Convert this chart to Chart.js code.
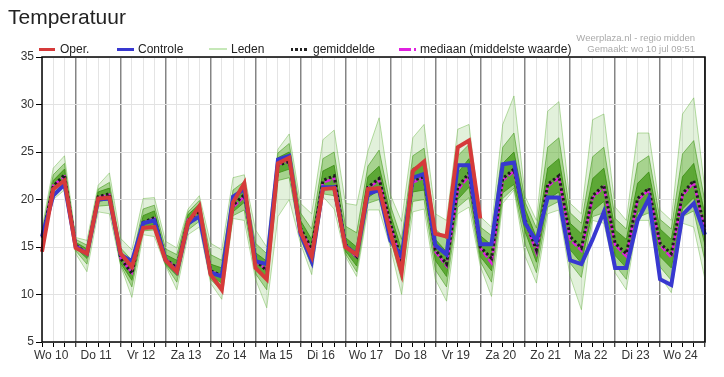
<!DOCTYPE html>
<html>
<head>
<meta charset="utf-8">
<script src="https://cdn.jsdelivr.net/npm/chart.js@4.4.1/dist/chart.umd.min.js"></script>
<style>
  body { margin: 0; background: #fff; font-family: 'Liberation Sans', Arial, sans-serif; }
  #wrap { position: relative; width: 724px; height: 377px; }
  #wrap canvas { position: absolute; left: 0; top: 0; }
  .title { position: absolute; left: 8px; top: 6px; font-size: 21px; line-height: 21px; color: #222; }
  .lg { position: absolute; top: 43px; font-size: 12px; line-height: 12px; color: #222; white-space: nowrap; }
  .sw { position: absolute; }
  .wm { position: absolute; right: 29px; top: 33px; font-size: 9.5px; line-height: 10.6px; color: #aaa; text-align: right; }
</style>
</head>
<body>
<div id="wrap">
  <canvas id="myChart" width="724" height="377"></canvas>
  <div class="title">Temperatuur</div>
  <span class="sw" style="left:39px;top:47.5px;width:16px;height:3px;background:#d63a3a"></span>
  <span class="lg" style="left:60px">Oper.</span>
  <span class="sw" style="left:117px;top:47.5px;width:17px;height:3px;background:#3838d0"></span>
  <span class="lg" style="left:138px">Controle</span>
  <span class="sw" style="left:209px;top:48px;width:18px;height:2px;background:#c6e8b8"></span>
  <span class="lg" style="left:231px">Leden</span>
  <span class="sw" style="left:291px;top:48px;width:16px;height:3px;background:repeating-linear-gradient(90deg,#222 0 2.5px,transparent 2.5px 4.5px)"></span>
  <span class="lg" style="left:313px">gemiddelde</span>
  <span class="sw" style="left:399px;top:48px;width:12px;height:3px;background:#e020e0"></span>
  <span class="sw" style="left:414px;top:48px;width:2px;height:3px;background:#e020e0"></span>
  <span class="lg" style="left:420px">mediaan (middelste waarde)</span>
  <div class="wm">Weerplaza.nl - regio midden<br>Gemaakt: wo 10 jul 09:51</div>
</div>
<script>
(() => {
  'use strict'

  // dagen op de x-as, label staat op 12:00
  const dayLabels = ['Wo 10', 'Do 11', 'Vr 12', 'Za 13', 'Zo 14', 'Ma 15', 'Di 16', 'Wo 17',
    'Do 18', 'Vr 19', 'Za 20', 'Zo 21', 'Ma 22', 'Di 23', 'Wo 24']

  // 6-uurlijkse waarden, eerste punt wo 10 06:00
  const oper = [14.5, 21.1, 22.0, 14.9, 14.3, 20.1, 20.2, 14.3, 12.9, 17.0,
    17.1, 13.6, 12.4, 17.6, 19.3, 12.1, 10.5, 19.7, 21.7, 12.8,
    11.6, 23.8, 24.4, 16.6, 14.0, 21.1, 21.2, 15.0, 14.2, 21.1,
    21.2, 16.5, 12.3, 23.0, 24.0, 16.4, 16.1, 25.5, 26.2, 18.0]

  const controle = [16.1, 20.4, 21.6, 15.0, 14.3, 20.0, 20.1, 14.2, 13.5, 17.5,
    17.8, 13.6, 12.4, 17.5, 18.2, 12.3, 11.9, 20.3, 21.1, 13.5,
    13.2, 24.2, 24.6, 16.4, 13.5, 21.3, 21.3, 15.1, 14.2, 20.6,
    21.0, 15.7, 14.0, 22.3, 22.7, 15.2, 14.2, 23.6, 23.6, 15.3,
    15.3, 23.7, 23.9, 17.5, 15.6, 20.2, 20.2, 13.6, 13.2, 15.8,
    18.7, 12.8, 12.8, 17.8, 20.1, 11.6, 11.0, 18.4, 19.6, 16.3]

  const gemiddelde = [16.0, 21.4, 22.6, 15.2, 14.3, 20.3, 20.6, 13.8, 12.2, 17.6,
    18.1, 13.7, 12.8, 17.8, 18.8, 12.5, 12.0, 19.4, 20.5, 13.6,
    12.5, 23.6, 24.0, 17.0, 14.8, 22.0, 22.5, 15.3, 14.0, 21.3,
    22.2, 17.5, 13.6, 22.0, 22.4, 14.7, 13.2, 21.3, 22.8, 15.0,
    13.8, 22.2, 23.2, 17.8, 14.7, 21.6, 22.5, 16.1, 14.9, 20.4,
    21.5, 15.4, 14.3, 20.1, 21.2, 15.4, 14.3, 20.6, 22.0, 16.8]

  const mediaan = [16.0, 21.5, 22.4, 15.2, 14.4, 20.2, 20.5, 13.8, 12.3, 17.5,
    18.0, 13.7, 12.9, 17.9, 18.7, 12.4, 12.1, 19.2, 20.3, 13.5,
    12.6, 23.7, 24.0, 16.9, 14.6, 21.8, 22.2, 15.2, 13.9, 21.2,
    22.0, 17.3, 13.3, 21.8, 22.3, 14.5, 13.0, 21.0, 22.5, 14.9,
    13.3, 22.0, 23.0, 17.7, 14.4, 21.4, 22.3, 15.8, 14.6, 20.2,
    21.3, 15.2, 14.0, 19.9, 21.0, 15.2, 13.9, 20.4, 21.8, 16.6]

  // spreiding van de leden (laagste, 10%, 25%, 75%, 90%, hoogste)
  const ledenMin = [15.3, 20.0, 21.0, 14.3, 12.4, 18.7, 18.5, 13.0, 9.7, 16.3,
    16.1, 13.0, 10.5, 16.3, 17.1, 11.2, 9.5, 18.0, 17.8, 11.6,
    8.6, 18.2, 20.0, 15.4, 12.1, 20.3, 19.0, 14.0, 11.9, 18.9,
    18.9, 15.0, 10.0, 18.7, 19.0, 11.6, 9.3, 18.5, 19.2, 13.0,
    9.8, 19.6, 21.0, 14.0, 11.2, 18.5, 18.9, 11.9, 8.4, 17.8,
    17.5, 12.3, 10.5, 17.8, 17.8, 11.9, 10.2, 17.5, 17.1, 11.6]

  const leden10 = [15.5, 20.5, 21.5, 14.6, 13.2, 19.3, 19.4, 13.1, 10.8, 16.7,
    16.8, 13.1, 11.3, 16.8, 17.7, 11.6, 10.4, 18.3, 18.9, 12.2,
    10.5, 22.0, 22.3, 15.9, 13.0, 20.6, 20.4, 14.3, 12.4, 19.6,
    20.0, 15.9, 11.5, 19.8, 20.0, 12.6, 10.8, 19.2, 20.2, 13.5,
    11.3, 20.1, 21.2, 15.3, 12.3, 19.2, 19.8, 13.3, 11.8, 18.2,
    18.6, 13.1, 11.6, 18.1, 18.6, 12.9, 11.5, 18.2, 18.8, 13.5]

  const leden25 = [15.7, 21.0, 22.0, 14.9, 13.8, 19.8, 20.0, 13.3, 11.5, 17.0,
    17.4, 13.2, 12.0, 17.2, 18.2, 12.0, 11.2, 18.7, 19.7, 12.8,
    11.5, 22.8, 23.2, 16.3, 13.8, 21.0, 21.4, 14.6, 13.0, 20.2,
    21.0, 16.6, 12.5, 20.8, 21.0, 13.6, 11.9, 20.0, 21.3, 14.0,
    12.5, 20.7, 21.6, 16.6, 13.4, 20.0, 20.8, 14.7, 13.3, 18.8,
    19.8, 14.1, 12.8, 18.6, 19.6, 14.0, 12.8, 19.0, 20.2, 15.2]

  const leden75 = [16.3, 22.0, 23.2, 15.5, 14.8, 20.8, 21.2, 14.3, 12.9, 18.3,
    18.8, 14.2, 13.6, 18.4, 19.5, 13.2, 12.8, 20.1, 21.3, 14.4,
    13.5, 24.4, 25.0, 17.8, 15.8, 23.0, 23.6, 16.0, 15.0, 22.4,
    23.5, 18.5, 14.7, 23.3, 23.8, 15.8, 14.5, 22.8, 24.3, 16.2,
    15.2, 23.8, 25.0, 19.0, 16.0, 23.3, 24.3, 17.5, 16.4, 22.2,
    23.3, 16.8, 15.8, 21.7, 22.9, 16.9, 15.8, 22.4, 23.8, 18.4]

  const leden90 = [16.6, 22.6, 23.8, 15.8, 15.2, 21.1, 21.8, 14.9, 13.6, 19.0,
    19.4, 14.8, 14.2, 18.7, 19.9, 14.2, 13.6, 21.0, 21.9, 15.4,
    14.3, 24.9, 25.9, 18.6, 16.9, 24.3, 25.0, 17.2, 16.5, 23.5,
    25.2, 19.4, 15.8, 24.6, 25.4, 16.9, 15.8, 24.6, 25.8, 17.1,
    16.2, 25.5, 27.0, 19.7, 17.0, 25.5, 26.5, 18.6, 17.5, 24.5,
    25.5, 18.0, 16.9, 23.8, 24.6, 17.9, 16.9, 24.8, 26.2, 19.7]

  const ledenMax = [17.0, 23.3, 24.6, 16.0, 15.7, 21.5, 22.8, 15.9, 14.7, 20.1,
    20.2, 15.6, 14.9, 19.0, 20.4, 15.4, 14.7, 22.3, 22.6, 16.8,
    15.0, 25.3, 26.9, 19.6, 18.5, 26.3, 27.3, 19.6, 19.4, 25.1,
    28.6, 20.5, 17.7, 26.5, 27.9, 18.5, 17.8, 27.4, 27.9, 18.2,
    17.1, 27.9, 30.9, 20.3, 17.8, 29.3, 30.3, 19.6, 18.5, 28.4,
    29.0, 19.2, 17.8, 27.0, 27.0, 18.9, 17.8, 29.0, 30.7, 21.0]

  const fontFam = "'Liberation Sans', Arial, sans-serif"

  // tijdvakken: 60 x 6 uur
  const slots = []
  for (let i = 0; i < controle.length; i++) {
    const h = 6 + i * 6
    slots.push({ day: dayLabels[Math.floor(h / 24)], hour: h % 24 })
  }

  function ens(data, line, fill, bg) {
    return {
      data: data,
      borderColor: line,
      borderWidth: 1,
      backgroundColor: bg || 'transparent',
      fill: fill,
      pointRadius: 0,
      tension: 0
    }
  }

  const framePlugin = {
    id: 'frame',
    afterDatasetsDraw(chart) {
      const a = chart.chartArea
      const c = chart.ctx
      c.save()
      c.strokeStyle = '#000'
      c.lineWidth = 1.5
      c.strokeRect(a.left, a.top, a.right - a.left, a.bottom - a.top)
      c.restore()
    }
  }

  const ctx = document.getElementById('myChart')
  // eslint-disable-next-line no-unused-vars
  const myChart = new Chart(ctx, {
    type: 'line',
    data: {
      labels: slots.map((s, i) => i),
      datasets: [
        { data: oper, borderColor: '#d63a3a', borderWidth: 4, pointRadius: 0, tension: 0, fill: false },
        { data: controle, borderColor: '#3838d0', borderWidth: 4, pointRadius: 0, tension: 0, fill: false },
        { data: gemiddelde, borderColor: '#1c1c1c', borderWidth: 3, borderDash: [2.5, 2.5], pointRadius: 0, tension: 0, fill: false },
        { data: mediaan, borderColor: '#e020e0', borderWidth: 2.5, borderDash: [6, 2], pointRadius: 0, tension: 0, fill: false },
        ens(leden75, 'rgba(55,140,15,0.8)', 5, 'rgba(70,155,25,0.75)'),
        ens(leden25, 'rgba(55,140,15,0.8)', false),
        ens(leden90, 'rgba(70,155,30,0.6)', 7, 'rgba(95,175,50,0.45)'),
        ens(leden10, 'rgba(70,155,30,0.6)', false),
        ens(ledenMax, 'rgba(100,180,60,0.45)', 9, 'rgba(140,200,110,0.25)'),
        ens(ledenMin, 'rgba(100,180,60,0.45)', false)
      ]
    },
    options: {
      responsive: false,
      animation: false,
      layout: { padding: { left: 0, top: 57, right: 19, bottom: 0 } },
      plugins: {
        legend: { display: false },
        tooltip: { enabled: false }
      },
      scales: {
        x: {
          type: 'category',
          offset: false,
          border: { display: false },
          grid: {
            offset: false,
            color: c => (c.index % 4 === 3 ? '#858585' : '#e4e4e4'),
            lineWidth: c => (c.index % 4 === 3 ? 1.5 : 1),
            tickColor: '#000',
            tickLength: 5,
            tickWidth: 1
          },
          ticks: {
            autoSkip: false,
            maxRotation: 0,
            padding: 1,
            labelOffset: -2,
            color: '#333',
            font: { family: fontFam, size: 12 },
            callback: (v, i) => (slots[i].hour === 12 ? slots[i].day : '')
          },
          afterFit(s) { s.height = 35 }
        },
        y: {
          min: 5,
          max: 35,
          border: { display: false },
          grid: { color: '#e2e2e2', tickColor: '#000', tickLength: 6, tickWidth: 1 },
          ticks: {
            stepSize: 5,
            padding: 2,
            color: '#333',
            font: { family: fontFam, size: 12 }
          },
          afterFit(s) { s.width = 42 }
        }
      }
    },
    plugins: [framePlugin]
  })
})()
</script>
</body>
</html>
